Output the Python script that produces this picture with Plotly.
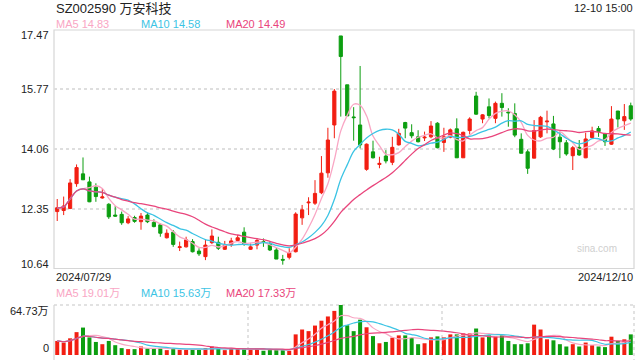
import plotly.graph_objects as go
import pandas as pd

# ---------------- data ----------------
opens = [12.27,12.30,12.36,13.07,13.35,13.12,12.97,12.66,12.48,12.17,
         12.19,11.95,12.10,11.98,12.17,11.96,11.89,11.52,11.68,11.24,
         11.26,11.41,11.14,10.98,11.38,11.39,11.19,11.33,11.44,11.68,
         11.19,11.31,11.41,11.33,11.17,10.90,10.96,11.12,12.09,12.52,
         12.51,12.81,13.38,14.75,17.30,15.90,14.98,14.75,13.48,13.98,
         13.62,13.86,13.68,14.18,14.82,14.53,14.41,14.38,14.41,14.80,
         14.25,14.40,14.64,13.81,14.59,15.58,14.92,15.27,14.94,15.37,
         15.12,15.08,14.34,13.98,13.80,14.41,14.84,14.78,14.40,14.24,
         13.87,14.11,13.81,14.39,14.65,14.49,14.20,15.15,14.87,15.30]
highs = [12.63,12.70,13.20,13.62,13.82,13.27,13.08,12.93,12.51,12.43,
         12.27,12.14,12.15,12.23,12.25,12.05,11.93,11.76,11.74,11.41,
         11.55,11.48,11.22,11.46,11.76,11.55,11.43,11.52,11.60,11.82,
         11.36,11.50,11.50,11.41,11.24,11.03,11.22,12.25,12.46,12.68,
         13.17,13.86,14.67,15.78,17.30,15.90,15.26,16.44,14.22,14.30,
         13.84,14.03,14.41,14.64,14.84,14.77,14.60,14.56,14.86,14.83,
         14.67,14.65,14.94,14.56,14.97,15.70,15.06,15.51,15.42,15.66,
         15.23,15.37,14.51,14.05,14.89,15.01,15.16,15.01,14.56,14.32,
         14.15,14.32,14.53,14.70,14.72,14.51,15.29,15.15,15.35,15.39]
lows = [12.00,12.17,12.34,12.98,13.18,12.54,12.55,12.64,12.06,12.12,
        11.89,11.91,11.95,11.75,11.94,11.82,11.55,11.50,11.26,11.14,
        11.24,11.10,11.00,10.88,11.34,11.17,11.17,11.26,11.40,11.29,
        11.17,11.19,11.26,11.14,10.91,10.75,10.90,11.10,11.89,12.17,
        12.46,12.77,13.24,14.37,14.99,15.01,14.30,14.08,13.44,13.79,
        13.51,13.65,13.60,14.16,14.37,14.37,14.25,14.29,14.37,14.08,
        13.98,14.37,13.81,13.81,14.48,15.04,14.80,14.94,14.80,14.99,
        14.70,14.40,13.94,13.35,13.80,14.38,14.51,14.03,13.80,13.87,
        13.46,13.87,13.80,14.37,14.41,14.15,14.18,14.68,14.61,14.87]
closes = [12.38,12.43,13.09,13.53,13.18,12.55,12.70,12.69,12.12,12.14,
          11.95,12.06,11.99,12.14,11.98,11.84,11.65,11.65,11.33,11.26,
          11.46,11.12,11.06,11.31,11.57,11.22,11.31,11.43,11.52,11.33,
          11.26,11.44,11.40,11.17,10.91,10.88,11.09,12.20,12.32,12.54,
          12.79,13.37,14.32,15.72,16.71,15.01,14.96,14.18,14.20,13.81,
          13.65,13.72,14.11,14.51,14.66,14.44,14.27,14.40,14.72,14.10,
          14.41,14.61,13.81,14.54,14.92,15.06,15.04,15.02,15.37,15.25,
          15.10,14.46,13.94,13.51,14.59,14.97,14.86,14.06,14.27,13.92,
          14.10,13.89,14.35,14.58,14.56,14.27,14.92,14.92,14.99,14.92]
volumes = [18.2,16.1,21.6,29.6,35.5,22.8,16.9,14.0,18.2,12.7,
           8.9,7.6,7.6,11.0,8.5,8.5,8.5,6.3,8.9,6.7,
           6.7,7.6,6.7,8.9,11.0,8.5,6.3,7.6,7.6,8.5,
           6.7,7.6,5.5,6.7,6.7,6.7,5.5,26.7,33.0,30.9,
           38.1,44.4,49.9,57.1,64.73,38.5,30.9,45.7,35.9,24.5,
           15.2,16.9,22.4,25.4,25.4,22.0,14.0,15.2,22.8,24.1,
           22.8,26.7,26.7,27.9,27.9,34.3,22.8,25.4,23.7,25.4,
           18.2,14.0,14.0,15.2,39.3,33.0,20.3,19.0,14.0,11.0,
           14.0,11.0,16.1,12.7,11.0,10.2,23.7,18.2,20.3,26.7]

price_ticks = [10.64, 12.35, 14.06, 15.77, 17.47]
vol_ticks = ["0", "64.73万"]
start_label = "2024/07/29"
end_label = "2024/12/10"
title_text = "SZ002590 万安科技"
time_text = "12-10 15:00"
ma_price_legend = ["MA5 14.83", "MA10 14.58", "MA20 14.49"]
ma_vol_legend = ["MA5 19.01万", "MA10 15.63万", "MA20 17.33万"]

# ---------------- derived ----------------
n = len(closes)
xs = list(range(n))
cs = pd.Series(closes)
vs = pd.Series(volumes)
ma_cols = ["#f9a6c4", "#3cc4e4", "#e9457c"]
wins = [5, 10, 20]
RED = "#f21e12"
GREEN = "#0c9e10"
bar_cols = [RED if c >= o else GREEN for o, c in zip(opens, closes)]

W, H = 640, 360
X0, X1 = 54, 634
MY0, MY1 = 30, 268.5      # main panel top/bottom (px)
VY0, VY1 = 305, 355       # volume panel top/bottom (px)

def py(v):
    return 1 - v / H

def px(v):
    return v / W

FONT = "Liberation Sans, Arial, Noto Sans CJK SC, sans-serif"

fig = go.Figure()
fig.add_trace(go.Candlestick(
    x=xs, open=opens, high=highs, low=lows, close=closes,
    increasing=dict(line=dict(color=RED, width=1), fillcolor=RED),
    decreasing=dict(line=dict(color=GREEN, width=1), fillcolor=GREEN),
    whiskerwidth=0, xaxis="x", yaxis="y", showlegend=False, hoverinfo="skip"))
for w, col in zip(wins, ma_cols):
    fig.add_trace(go.Scatter(x=xs, y=cs.rolling(w, min_periods=1).mean(),
                             mode="lines", line=dict(color=col, width=1.3, shape="spline"),
                             xaxis="x", yaxis="y", showlegend=False, hoverinfo="skip"))
fig.add_trace(go.Bar(x=xs, y=volumes, marker=dict(color=bar_cols, line=dict(width=0)),
                     width=0.62, xaxis="x2", yaxis="y2", showlegend=False, hoverinfo="skip"))
for w, col in zip(wins, ma_cols):
    fig.add_trace(go.Scatter(x=xs, y=vs.rolling(w, min_periods=1).mean(),
                             mode="lines", line=dict(color=col, width=1.2, shape="spline"),
                             xaxis="x2", yaxis="y2", showlegend=False, hoverinfo="skip"))

xr = [-0.5, n - 0.5]
fig.update_layout(
    width=W, height=H, margin=dict(l=0, r=0, t=0, b=0),
    paper_bgcolor="white", plot_bgcolor="white",
    font=dict(family=FONT, size=11, color="#333"),
    xaxis=dict(domain=[px(X0), px(X1)], range=xr, showgrid=False, zeroline=False,
               showticklabels=False, rangeslider=dict(visible=False), anchor="y"),
    yaxis=dict(domain=[py(MY1), py(MY0)], range=[price_ticks[0], price_ticks[-1]],
               tickvals=price_ticks[1:-1], showticklabels=False, zeroline=False,
               gridcolor="#dedede", griddash="dot", gridwidth=1.5, anchor="x"),
    xaxis2=dict(domain=[px(X0), px(X1)], range=xr, showgrid=False, zeroline=False,
                showticklabels=False, anchor="y2"),
    yaxis2=dict(domain=[py(VY1), py(VY0)], range=[0, 64.73], showgrid=False,
                showticklabels=False, zeroline=False, anchor="x2"),
    bargap=0.3,
)

shapes = []
# main border
shapes.append(dict(type="rect", xref="paper", yref="paper", x0=px(X0), x1=px(X1),
                   y0=py(MY1), y1=py(MY0), line=dict(color="#d6d6d6", width=1.2), layer="below"))
# volume panel lines
dot = dict(color="#d9d9d9", width=1.5, dash="dot")
shapes.append(dict(type="line", xref="paper", yref="paper", x0=px(X0), x1=px(X1),
                   y0=py(VY0), y1=py(VY0), line=dot, layer="below"))
shapes.append(dict(type="line", xref="paper", yref="paper", x0=px(X1), x1=px(X1),
                   y0=py(VY0), y1=0, line=dot, layer="below"))
for xv in [248, 442]:
    shapes.append(dict(type="line", xref="paper", yref="paper", x0=px(xv), x1=px(xv),
                       y0=py(VY0), y1=0, line=dot, layer="below"))
shapes.append(dict(type="line", xref="paper", yref="paper", x0=px(X0), x1=px(X0),
                   y0=py(VY0), y1=0, line=dict(color="#d6d6d6", width=1.2), layer="below"))
fig.update_layout(shapes=shapes)

ann = []
def text(x, y, s, color="#333", size=11, xanchor="left"):
    ann.append(dict(x=px(x), y=py(y), xref="paper", yref="paper", text=s, showarrow=False,
                    xanchor=xanchor, yanchor="middle", font=dict(size=size, color=color, family=FONT)))

text(54, 8, title_text, color="#222", size=13)
text(635, 8, time_text, color="#222", size=11, xanchor="right")
for xl, s, col in zip([54, 139, 224], ma_price_legend, ma_cols):
    text(xl, 24, s, color=col)
for xl, s, col in zip([54, 139, 224], ma_vol_legend, ma_cols):
    text(xl, 293, s, color=col)
# price labels
ypos = [264, 209, 149, 89, 35]
for v, yv in zip(price_ticks, ypos):
    text(51, yv, f"{v:.2f}", color="#222", xanchor="right")
text(51, 311, vol_ticks[1], color="#222", xanchor="right")
text(51, 348, vol_ticks[0], color="#222", xanchor="right")
text(54, 277, start_label, color="#222")
text(635, 277, end_label, color="#222", xanchor="right")
text(597, 248, "sina.com", color="#cfcfcf", size=10, xanchor="center")
fig.update_layout(annotations=ann)

fig.write_html("out.html")
